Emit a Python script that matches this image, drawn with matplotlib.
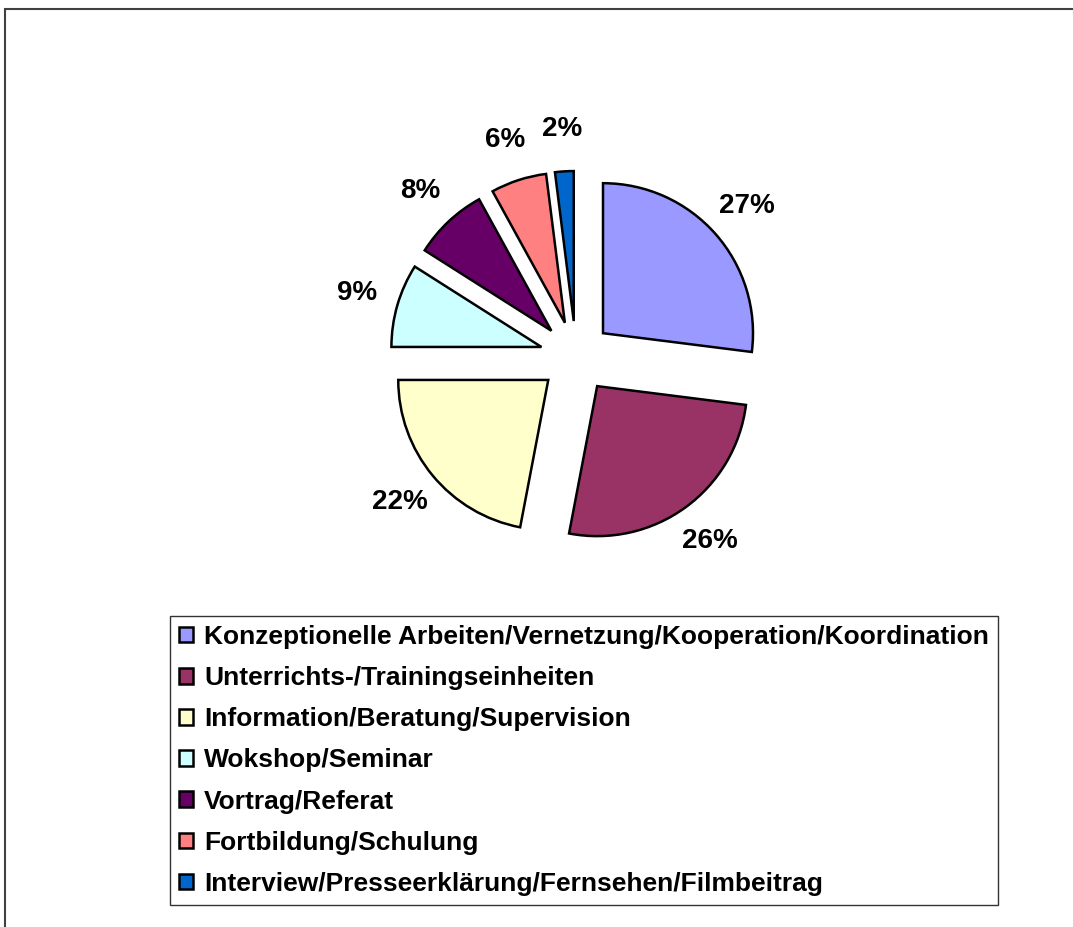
import matplotlib
matplotlib.use("Agg")
import matplotlib.pyplot as plt
from matplotlib.patches import Rectangle

categories = [
    "Konzeptionelle Arbeiten/Vernetzung/Kooperation/Koordination",
    "Unterrichts-/Trainingseinheiten",
    "Information/Beratung/Supervision",
    "Wokshop/Seminar",
    "Vortrag/Referat",
    "Fortbildung/Schulung",
    "Interview/Presseerklärung/Fernsehen/Filmbeitrag",
]
values = [27, 26, 22, 9, 8, 6, 2]
colors = ["#9999FF", "#993366", "#FFFFCC", "#CCFFFF", "#660066", "#FF8080", "#0066CC"]

plt.rcParams['font.family'] = ['Liberation Sans', 'DejaVu Sans']

W, H = 1073, 927
fig = plt.figure(figsize=(W / 100, H / 100), dpi=100)
fig.patch.set_facecolor("white")

# figure border (top and left visible)
fig.add_artist(Rectangle((5 / W, -0.1), 1.2, (H - 9) / H + 0.1, transform=fig.transFigure,
                         fill=False, edgecolor="#404040", linewidth=1.5))

L = 1.8
scale = 150  # px per unit radius
cx, cy = 576, H - 357
side = 2 * L * scale
ax = fig.add_axes([(cx - side / 2) / W, (cy - side / 2) / H, side / W, side / H])

wedges, texts, autotexts = ax.pie(
    values, colors=colors, startangle=90, counterclock=False,
    explode=[0.24] * len(values), autopct="%1.0f%%", pctdistance=1.28,
    wedgeprops=dict(edgecolor="black", linewidth=1.8),
    textprops=dict(fontsize=20, fontweight="bold", color="black"),
)
ax.set_xlim(-L, L)
ax.set_ylim(-L, L)
ax.set_aspect("equal")
ax.axis("off")

leg = fig.legend(wedges, categories, loc="upper left",
                 bbox_to_anchor=(170 / W, (H - 616) / H),
                 frameon=True, fancybox=False, edgecolor="black",
                 prop=dict(size=19, weight="bold"),
                 handlelength=0.53, handleheight=0.53, handletextpad=0.42,
                 labelspacing=0.65, borderpad=0.34, borderaxespad=0)
leg.get_frame().set_linewidth(1.0)
for h in leg.legend_handles:
    h.set_edgecolor("black")
    h.set_linewidth(1.8)

fig.savefig("out.png", dpi=100)
